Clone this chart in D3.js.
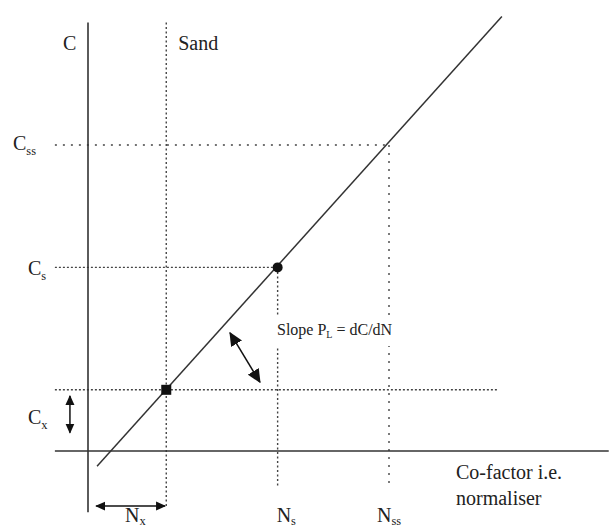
<!DOCTYPE html>
<html>
<head>
<meta charset="utf-8">
<script src="https://cdn.jsdelivr.net/npm/d3@7"></script>
<style>
  body { margin: 0; background: #fff; }
  text { font-family: "Liberation Serif", "Times New Roman", serif; fill: #222; }
</style>
</head>
<body>
<div id="chart"></div>
<script>
// schematic values (arbitrary units, axes cross at 0,0)
const nLevels = { x: 26, s: 63, ss: 100 };
const cLevels = { x: 20, s: 60, ss: 100 };
const trendN = [3, 137.5];
const trendC = [-5, 142];
const axisN = [-11, 173];
const axisC = [-20, 140];
const points = [
  { n: 26, c: 20, shape: 'square' },
  { n: 63, c: 60, shape: 'circle' }
];

const width = 609, height = 529;
const x = d3.scaleLinear().domain([0, 100]).range([88, 389]);
const y = d3.scaleLinear().domain([0, 100]).range([451, 145]);

const svg = d3.select('#chart').append('svg')
  .attr('width', width).attr('height', height);

const defs = svg.append('defs');
const addHead = (id, size) => {
  defs.append('marker')
    .attr('id', id)
    .attr('viewBox', '0 0 10 10')
    .attr('refX', 9).attr('refY', 5)
    .attr('markerWidth', size).attr('markerHeight', size)
    .attr('markerUnits', 'userSpaceOnUse')
    .attr('orient', 'auto-start-reverse')
    .append('path')
    .attr('d', 'M0,0.5 L10,5 L0,9.5 Z')
    .attr('fill', '#111');
};
addHead('head', 10);
addHead('headBig', 14);

const ink = '#333';

// dotted guide lines
const guide = (x1, y1, x2, y2, dash) => svg.append('line')
  .attr('x1', x1).attr('y1', y1).attr('x2', x2).attr('y2', y2)
  .attr('stroke', '#444').attr('stroke-width', 1.4)
  .attr('stroke-dasharray', dash);

guide(x(axisN[0]), y(cLevels.ss), x(nLevels.ss), y(cLevels.ss), '2,6');
guide(x(nLevels.ss), y(cLevels.ss), x(nLevels.ss), y(-11.8), '2,6');
guide(x(axisN[0]), y(cLevels.s), x(nLevels.s), y(cLevels.s), '2,2');
guide(x(nLevels.s), y(cLevels.s), x(nLevels.s), y(-11.8), '2,2.5');
guide(x(axisN[0]), y(cLevels.x), x(136), y(cLevels.x), '2,2');
guide(x(nLevels.x), y(axisC[1]), x(nLevels.x), y(-18.6), '2,2.5');

// axes
svg.append('line')
  .attr('x1', x(0)).attr('y1', y(axisC[1])).attr('x2', x(0)).attr('y2', y(axisC[0]))
  .attr('stroke', ink).attr('stroke-width', 1.6);
svg.append('line')
  .attr('x1', x(axisN[0])).attr('y1', y(0)).attr('x2', x(axisN[1])).attr('y2', y(0))
  .attr('stroke', ink).attr('stroke-width', 1.6);

// trend line
svg.append('line')
  .attr('x1', x(trendN[0])).attr('y1', y(trendC[0]))
  .attr('x2', x(trendN[1])).attr('y2', y(trendC[1]))
  .attr('stroke', ink).attr('stroke-width', 1.5);

// points
points.forEach(p => {
  if (p.shape === 'square') {
    svg.append('rect')
      .attr('x', x(p.n) - 5).attr('y', y(p.c) - 5)
      .attr('width', 10).attr('height', 10).attr('fill', '#111');
  } else {
    svg.append('circle')
      .attr('cx', x(p.n)).attr('cy', y(p.c)).attr('r', 5).attr('fill', '#111');
  }
});

// double arrows
const arrow = (n1, c1, n2, c2, head) => svg.append('line')
  .attr('x1', x(n1)).attr('y1', y(c1)).attr('x2', x(n2)).attr('y2', y(c2))
  .attr('stroke', '#111').attr('stroke-width', 1.5)
  .attr('marker-start', `url(#${head})`).attr('marker-end', `url(#${head})`);
arrow(-6, 18, -6, 6, 'head');
arrow(2.7, -18, 25.6, -18, 'head');
arrow(47.2, 38.6, 57.1, 22.5, 'headBig');

// labels
const label = (tx, ty, main, sub, size, dy = 5) => {
  const t = svg.append('text').attr('x', tx).attr('y', ty).attr('font-size', size);
  t.append('tspan').text(main);
  if (sub) t.append('tspan').attr('font-size', size * 0.62).attr('dy', dy).text(sub);
  return t;
};

label(x(0) - 25, 50, 'C', null, 20);
label(x(nLevels.x) + 12, 50, 'Sand', null, 20);
label(13, y(cLevels.ss) + 5, 'C', 'ss', 20);
label(28, y(cLevels.s) + 8, 'C', 's', 20);
label(28, y(cLevels.x) + 34, 'C', 'x', 20);
label(125, 522, 'N', 'x', 20, 3);
label(x(nLevels.s) - 1, 522, 'N', 's', 20, 3);
label(x(nLevels.ss) - 12, 522, 'N', 'ss', 20, 3);

svg.append('text').attr('x', 456).attr('y', 479).attr('font-size', 20).text('Co-factor i.e.');
svg.append('text').attr('x', 456).attr('y', 505).attr('font-size', 20).text('normaliser');

// slope label over a white patch that breaks the guides
svg.append('rect').attr('x', 274).attr('y', 316).attr('width', 128).attr('height', 30).attr('fill', '#fff');
const slope = svg.append('text').attr('x', 277).attr('y', 335).attr('font-size', 16);
slope.append('tspan').text('Slope P');
slope.append('tspan').attr('font-size', 10).attr('dy', 3).text('L');
slope.append('tspan').attr('dy', -3).text(' = dC/dN');
</script>
</body>
</html>
